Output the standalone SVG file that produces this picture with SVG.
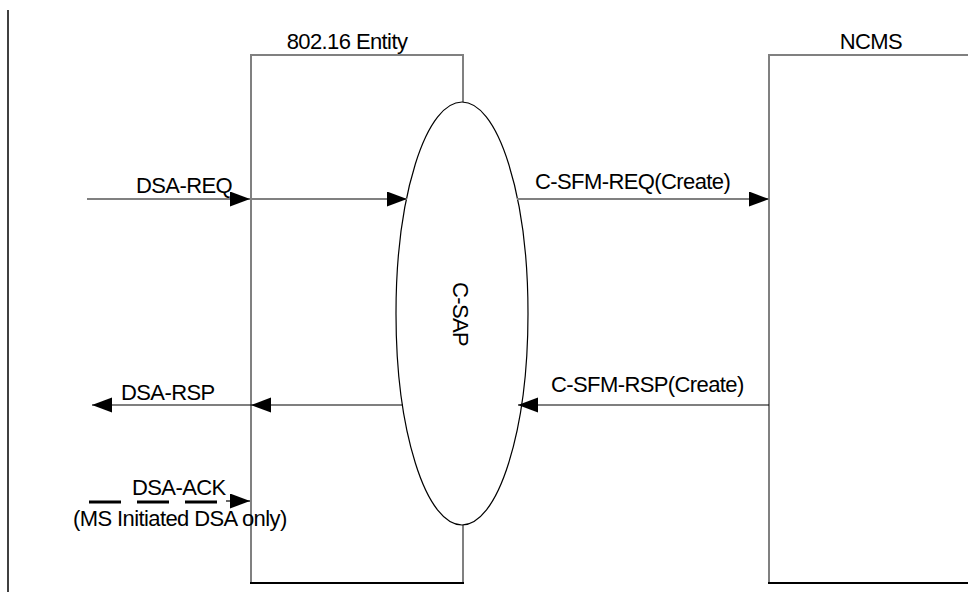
<svg xmlns="http://www.w3.org/2000/svg" width="968" height="601" viewBox="0 0 968 601">
  <defs>
    <marker id="ah" markerUnits="userSpaceOnUse" markerWidth="21" markerHeight="16" refX="20" refY="7.5" orient="auto">
      <path d="M0,0 L20,7.5 L0,15 z" fill="#000"/>
    </marker>
    <style>
      text { font-family: "Liberation Sans", Arial, sans-serif; font-size: 22px; letter-spacing: -0.6px; fill: #000; }
      .box { fill: #fff; stroke: #808080; stroke-width: 2; }
      .gline { stroke: #808080; stroke-width: 2; fill: none; }
      .bline { stroke: #000; stroke-width: 1.2; fill: none; }
      .dline { stroke: #000; stroke-width: 2.8; fill: none; stroke-dasharray: 32 16; }
    </style>
  </defs>
  <rect width="968" height="601" fill="#fff"/>

  <line x1="8" y1="10" x2="8" y2="592" stroke="#000" stroke-width="1.5"/>

  <g id="entity">
    <rect class="box" x="251" y="55" width="212" height="528"/>
    <line x1="250" y1="583" x2="464" y2="583" stroke="#000" stroke-width="2"/>
    <text x="347" y="49" text-anchor="middle">802.16 Entity</text>
  </g>

  <g id="ncms">
    <path d="M769,583 L769,55 L975,55" class="box"/>
    <line x1="768" y1="583" x2="975" y2="583" stroke="#000" stroke-width="2"/>
    <text x="871" y="49" text-anchor="middle">NCMS</text>
  </g>

  <g id="csap">
    <ellipse cx="462" cy="313.5" rx="66" ry="211.5" fill="#fff" stroke="#000" stroke-width="1.2"/>
    <text transform="translate(453,314) rotate(90)" text-anchor="middle">C-SAP</text>
  </g>

  <g id="connectors">
    <line class="gline" x1="87" y1="199" x2="250" y2="199" marker-end="url(#ah)"/>
    <line class="gline" x1="252" y1="199" x2="407" y2="199" marker-end="url(#ah)"/>
    <line class="gline" x1="517" y1="199" x2="769" y2="199" marker-end="url(#ah)"/>
    <line class="bline" x1="769" y1="405" x2="518" y2="405" marker-end="url(#ah)"/>
    <line class="bline" x1="403" y1="405" x2="251" y2="405" marker-end="url(#ah)"/>
    <line class="bline" x1="251" y1="405" x2="92" y2="405" marker-end="url(#ah)"/>
    <line class="dline" x1="89" y1="502" x2="222" y2="502"/>
    <line class="bline" x1="226" y1="501" x2="250" y2="501" marker-end="url(#ah)"/>
  </g>

  <g id="labels">
    <text x="136" y="193">DSA-REQ</text>
    <text x="535" y="189">C-SFM-REQ(Create)</text>
    <text x="551" y="392">C-SFM-RSP(Create)</text>
    <text x="121" y="400">DSA-RSP</text>
    <text x="132" y="495">DSA-ACK</text>
    <text x="73" y="526">(MS Initiated DSA only)</text>
  </g>
</svg>
